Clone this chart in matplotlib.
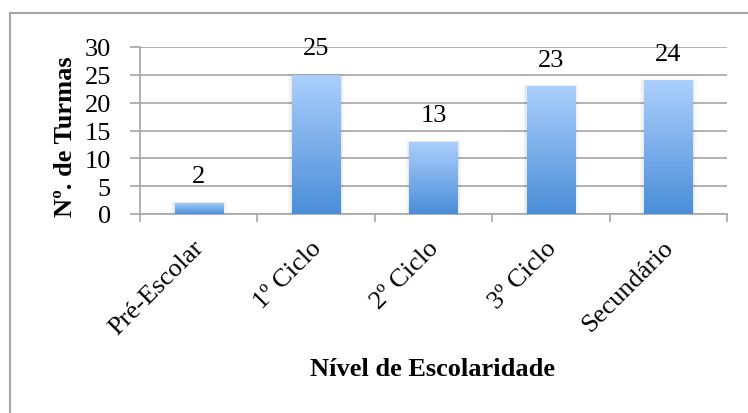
import numpy as np
import matplotlib
matplotlib.use("Agg")
import matplotlib.pyplot as plt
from matplotlib.colors import LinearSegmentedColormap
from matplotlib.patches import Rectangle
from matplotlib.transforms import ScaledTranslation

categories = ["Pré-Escolar", "1º Ciclo", "2º Ciclo", "3º Ciclo", "Secundário"]
turmas = [2, 25, 13, 23, 24]
y_ticks = [0, 5, 10, 15, 20, 25, 30]

plt.rcParams["font.family"] = ["Liberation Serif", "DejaVu Serif"]
FS = 19

W, H = 748, 414
fig = plt.figure(figsize=(W / 100, H / 100), dpi=100)

# outer chart frame
frame = Rectangle((10 / W, -0.1), 1.2, 1 - 14 / H + 0.1, transform=fig.transFigure,
                  fill=False, edgecolor="#a6a6a6", linewidth=1.5, zorder=0)
fig.patches.append(frame)

ax = fig.add_axes([140 / W, 1 - 215 / H, (727 - 140) / W, (215 - 48) / H])

grad = LinearSegmentedColormap.from_list("bar", ["#4a8ed8", "#acd0fd"])
bar_w = 0.41
for i, v in enumerate(turmas):
    x0 = i + 0.5 - bar_w / 2
    # soft shadow
    for k, a in enumerate([0.04, 0.03, 0.02]):
        d = 0.012 * (k + 1)
        ax.add_patch(Rectangle((x0 - d, 0), bar_w + 2 * d, v + d * 6,
                               facecolor="black", alpha=a, edgecolor="none", zorder=2))
    rect = Rectangle((x0, 0), bar_w, v, facecolor="none", edgecolor="none", zorder=3)
    ax.add_patch(rect)
    im = ax.imshow(np.linspace(0, 1, 256).reshape(-1, 1), cmap=grad, origin="lower",
                   extent=[x0, x0 + bar_w, 0, v], aspect="auto", zorder=3)
    im.set_clip_path(rect)
    ax.annotate(str(v), (i + 0.5, v), xytext=(0, 19), textcoords="offset points",
                ha="center", va="center", fontsize=FS, color="black")

ax.set_xlim(0, len(categories))
ax.set_ylim(0, 30)

ax.set_yticks(y_ticks)
ax.set_yticklabels([str(t) for t in y_ticks], fontsize=FS)
ax.yaxis.grid(True, color="#a6a6a6", linewidth=1.2, zorder=1)
ax.set_axisbelow(True)

ax.set_xticks(np.arange(0, len(categories) + 1), minor=False)
ax.set_xticklabels([])
ax.set_xticks(np.arange(len(categories)) + 0.5, minor=True)
ax.set_xticklabels(categories, minor=True, fontsize=FS, rotation=45,
                   ha="right", va="top", rotation_mode="anchor")
ax.tick_params(axis="x", which="major", length=6, width=1.2, color="#a6a6a6", direction="out")
ax.tick_params(axis="x", which="minor", length=0, pad=16)
ax.tick_params(axis="y", length=7, width=1.2, color="#a6a6a6", pad=14)
for lbl in ax.get_xticklabels(minor=True):
    lbl.set_transform(lbl.get_transform() + ScaledTranslation(-6 / 100, 0, fig.dpi_scale_trans))

for s in ["top", "right"]:
    ax.spines[s].set_visible(False)
for s in ["left", "bottom"]:
    ax.spines[s].set_color("#a6a6a6")
    ax.spines[s].set_linewidth(1.2)

fig.text(65 / W, 1 - 137 / H, "Nº. de Turmas", rotation=90, fontsize=FS,
         fontweight="bold", ha="center", va="center")
fig.text(433 / W, 1 - 370 / H, "Nível de Escolaridade", fontsize=FS,
         fontweight="bold", ha="center", va="center")

fig.savefig("out.png", dpi=100)
